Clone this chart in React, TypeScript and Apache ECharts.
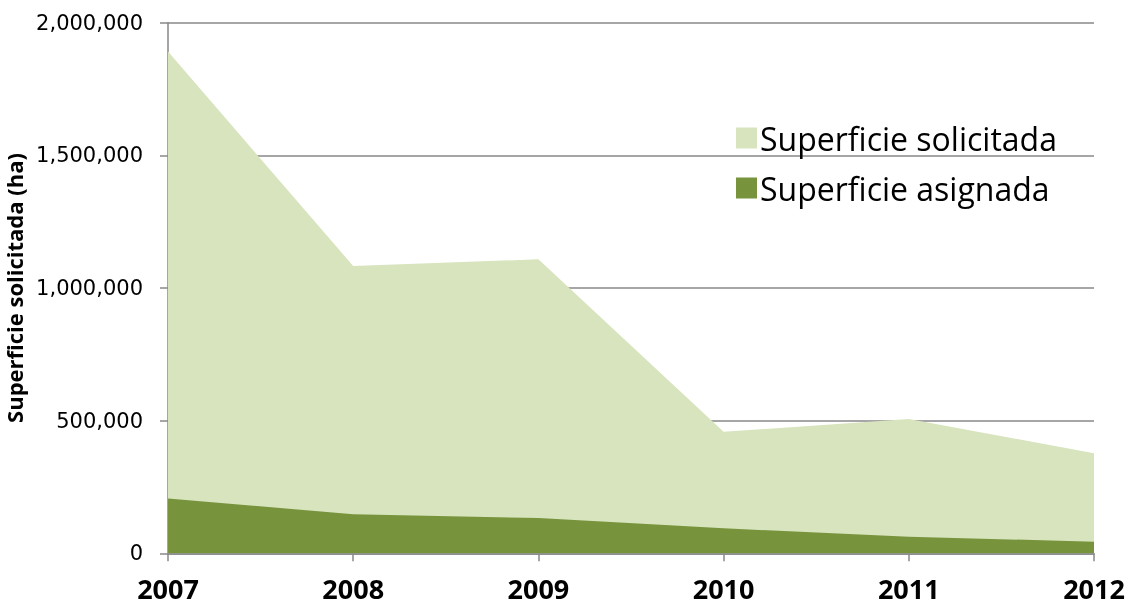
import React, { useEffect, useRef } from "react";
import * as echarts from "echarts";

const years = ["2007", "2008", "2009", "2010", "2011", "2012"];
const solicitada = [1891000, 1083000, 1108000, 458000, 506000, 377000];
const asignada = [207000, 147000, 133000, 94000, 62000, 44000];

export default function App() {
  const ref = useRef<HTMLDivElement>(null);
  useEffect(() => {
    document.body.style.margin = "0";
    const chart = echarts.init(ref.current!, null, { renderer: "svg" });
    const font = "'Open Sans', 'Noto Sans', sans-serif";
    const tickFont = "'DejaVu Sans', sans-serif";
    chart.setOption({
      animation: false,
      textStyle: { fontFamily: font },
      grid: {
        left: 168,
        top: 22.7,
        right: 38,
        bottom: 54.7,
        containLabel: false,
        outerBoundsMode: "none",
      },
      legend: {
        orient: "vertical",
        left: 731,
        top: 117,
        icon: "rect",
        itemWidth: 21,
        itemHeight: 21,
        itemGap: 18,
        textStyle: {
          fontSize: 32,
          lineHeight: 32,
          color: "#000",
          fontFamily: font,
          padding: [0, 0, 0, -2],
        },
        data: ["Superficie solicitada", "Superficie asignada"],
      },
      xAxis: {
        type: "category",
        data: years,
        boundaryGap: false,
        axisLine: { lineStyle: { color: "#888", width: 1.5 } },
        axisTick: { show: true, length: 8, lineStyle: { color: "#888", width: 1.5 } },
        axisLabel: { fontSize: 27, fontWeight: "bold", color: "#000", margin: 22, fontFamily: font },
      },
      yAxis: {
        type: "value",
        min: 0,
        max: 2000000,
        interval: 500000,
        name: "Superficie solicitada (ha)",
        nameLocation: "middle",
        nameGap: 132,
        nameTextStyle: { fontSize: 22, fontWeight: "bold", color: "#000", fontFamily: font },
        axisLine: { show: true, lineStyle: { color: "#888", width: 1.5 } },
        axisTick: { show: true, length: 8, lineStyle: { color: "#888", width: 1.5 } },
        splitLine: { show: true, lineStyle: { color: "#888", width: 1.5 } },
        axisLabel: {
          fontSize: 21,
          color: "#000",
          margin: 25,
          fontFamily: tickFont,
          formatter: (v: number) => v.toLocaleString("en-US"),
        },
      },
      series: [
        {
          name: "Superficie solicitada",
          type: "line",
          data: solicitada,
          symbol: "none",
          lineStyle: { width: 0 },
          itemStyle: { color: "#d7e4bd" },
          areaStyle: { color: "#d7e4bd", opacity: 1 },
          z: 2,
        },
        {
          name: "Superficie asignada",
          type: "line",
          data: asignada,
          symbol: "none",
          lineStyle: { width: 0 },
          itemStyle: { color: "#77933c" },
          areaStyle: { color: "#77933c", opacity: 1 },
          z: 3,
        },
      ],
    });
    return () => chart.dispose();
  }, []);
  return <div ref={ref} style={{ width: 1132, height: 608, position: "fixed", left: 0, top: 0 }} />;
}
